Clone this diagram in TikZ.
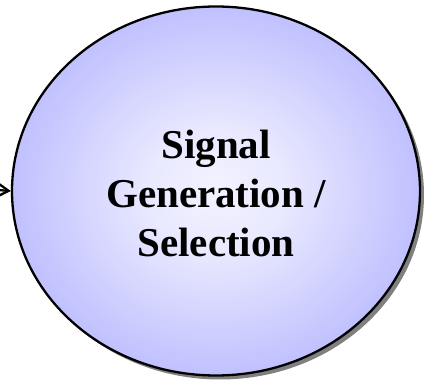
\documentclass[tikz,border=0pt]{standalone}
\usepackage{fontspec}
\setmainfont{Liberation Serif}
\usetikzlibrary{arrows.meta,shapes.geometric}
\definecolor{bubbleEdge}{RGB}{152,152,255}
\definecolor{bubbleMid}{RGB}{185,185,255}
\definecolor{bubbleCore}{RGB}{242,242,255}
\definecolor{shadowGray}{RGB}{128,128,128}
\pgfdeclareradialshading{bubble}{\pgfpoint{0bp}{0bp}}{%
  color(0bp)=(bubbleCore);
  color(8bp)=(bubbleCore!85!bubbleMid);
  color(28bp)=(bubbleMid);
  color(50bp)=(bubbleEdge);
  color(100bp)=(bubbleEdge)}
\tikzset{
  procbubble/.style={ellipse, minimum width=408pt, minimum height=369pt,
    draw=black, line width=2.3pt, shading=bubble,
    font=\bfseries\fontsize{41}{49}\selectfont, align=center, inner sep=0pt},
  bubbleshadow/.style={fill=shadowGray, draw=none},
  flowarrow/.style={draw=black, line width=2.3pt,
    -{Straight Barb[length=10pt, width=12pt, line width=2.3pt]}}
}
\begin{document}
\begin{tikzpicture}[x=1pt,y=1pt]
  \useasboundingbox (0,0) rectangle (424,383);
  % drop shadow under the process bubble
  \fill[bubbleshadow] (220,188) ellipse [x radius=204, y radius=184.5];
  % process bubble
  \node[procbubble] (proc) at (216,192) {};
  \node[font=\bfseries\fontsize{41}{49}\selectfont, align=center]
    (label) at (216,190) {Signal\\Generation /\\Selection};
  % incoming flow
  \coordinate (src) at (-2,193);
  \draw[flowarrow] (src) -- (proc.west);
\end{tikzpicture}
\end{document}
